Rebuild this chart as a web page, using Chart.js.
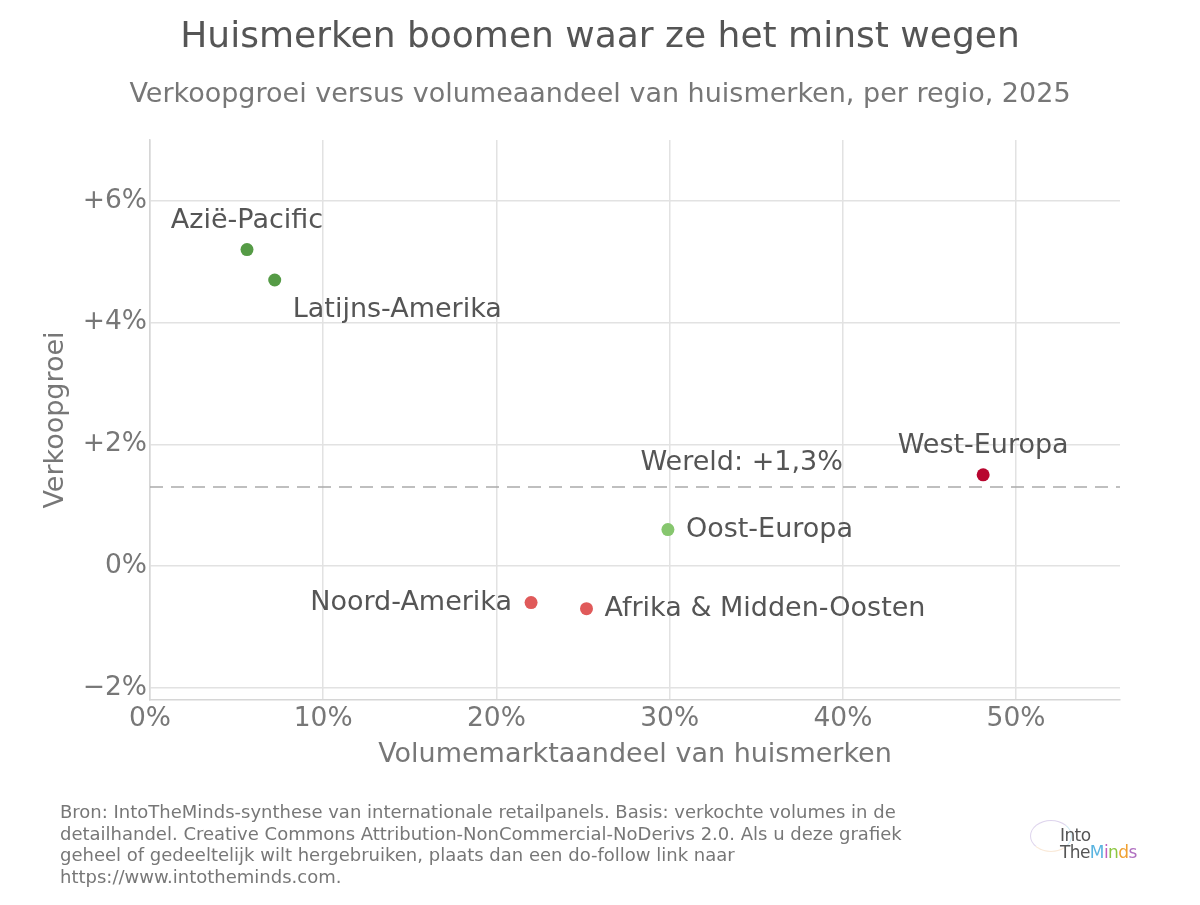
<!DOCTYPE html>
<html>
<head>
<meta charset="utf-8">
<script src="https://cdn.jsdelivr.net/npm/chart.js@4.4.1/dist/chart.umd.min.js"></script>
<style>
  body { margin: 0; background: #fff; font-family: 'DejaVu Sans', sans-serif; }
  #wrap { position: relative; width: 1200px; height: 905px; }
  #footer {
    position: absolute; left: 60px; top: 801px; width: 900px;
    font-family: 'DejaVu Sans', sans-serif;
    font-size: 18px; line-height: 21.5px; color: #777;
  }
  #logo {
    position: absolute; left: 1060px; top: 827px;
    font-family: 'DejaVu Sans', sans-serif; font-size: 17px; line-height: 17px; color: #555;
    letter-spacing: -0.6px;
  }
  #swirl {
    position: absolute; left: 1030px; top: 820px; width: 40px; height: 30px;
    border-radius: 50%; border: 1.5px solid rgba(190, 170, 220, 0.5);
    border-right-color: rgba(160, 210, 230, 0.5); border-bottom-color: rgba(240, 200, 160, 0.4);
  }
</style>
</head>
<body>
<div id="wrap">
  <canvas id="chart" width="1200" height="905"></canvas>
  <div id="footer">Bron: IntoTheMinds-synthese van internationale retailpanels. Basis: verkochte volumes in de<br>detailhandel. Creative Commons Attribution-NonCommercial-NoDerivs 2.0. Als u deze grafiek<br>geheel of gedeeltelijk wilt hergebruiken, plaats dan een do-follow link naar<br>https://www.intotheminds.com.</div>
  <div id="swirl"></div>
  <div id="logo">Into<br>The<span style="color:#5ab4e0">M</span><span style="color:#c05fc0">i</span><span style="color:#8cc63f">n</span><span style="color:#f0a030">d</span><span style="color:#b070c0">s</span></div>
</div>
<script>
// data
const regions = ['Azië-Pacific', 'Latijns-Amerika', 'West-Europa', 'Oost-Europa', 'Noord-Amerika', 'Afrika & Midden-Oosten'];
const volumeShare = [5.6, 7.2, 48.1, 29.9, 22.0, 25.2];
const salesGrowth = [5.2, 4.7, 1.5, 0.6, -0.6, -0.7];
const worldGrowth = 1.3;
const xRange = [0, 56];
const yRange = [-2.2, 7];

const pointColors = ['#559b46', '#559b46', '#b8062f', '#86c66e', '#e05a5a', '#e05a5a'];
// where each label sits relative to its dot
const labelSide = ['above', 'belowRight', 'above', 'right', 'left', 'right'];

const titleText = 'Huismerken boomen waar ze het minst wegen';
const subtitleText = 'Verkoopgroei versus volumeaandeel van huismerken, per regio, 2025';

const textGrey = '#555';
const tickGrey = '#777';
const FONT = '"DejaVu Sans"';

// titles centred on the whole canvas, not on the chart box
const headings = {
  id: 'headings',
  afterDraw(chart) {
    const ctx = chart.ctx;
    ctx.save();
    ctx.textAlign = 'center';
    ctx.textBaseline = 'middle';
    ctx.fillStyle = textGrey;
    ctx.font = '36px ' + FONT;
    ctx.fillText(titleText, chart.width / 2, 38);
    ctx.fillStyle = tickGrey;
    ctx.font = '27px ' + FONT;
    ctx.fillText(subtitleText, chart.width / 2, 95);
    ctx.restore();
  }
};

const pointLabels = {
  id: 'pointLabels',
  afterDatasetsDraw(chart) {
    const ctx = chart.ctx;
    const meta = chart.getDatasetMeta(0);
    ctx.save();
    ctx.font = '27px ' + FONT;
    ctx.fillStyle = textGrey;
    meta.data.forEach((pt, i) => {
      let x = pt.x, y = pt.y;
      ctx.textBaseline = 'middle';
      if (labelSide[i] === 'above') { ctx.textAlign = 'center'; y -= 29; }
      else if (labelSide[i] === 'belowRight') { ctx.textAlign = 'left'; x += 18; y += 30; }
      else if (labelSide[i] === 'right') { ctx.textAlign = 'left'; x += 18; }
      else { ctx.textAlign = 'right'; x -= 19; }
      ctx.fillText(regions[i], x, y);
    });
    // world reference label
    const xs = chart.scales.x, ys = chart.scales.y;
    ctx.textAlign = 'right';
    ctx.fillText('Wereld: +' + String(worldGrowth).replace('.', ',') + '%', xs.getPixelForValue(40), ys.getPixelForValue(worldGrowth) - 24);
    ctx.restore();
  }
};

new Chart(document.getElementById('chart'), {
  type: 'scatter',
  data: {
    datasets: [{
      label: 'Regio',
      data: regions.map((r, i) => ({ x: volumeShare[i], y: salesGrowth[i] })),
      backgroundColor: pointColors,
      borderWidth: 0,
      pointRadius: 6.5,
      order: 1
    }, {
      type: 'line',
      label: 'Wereld',
      data: [{ x: xRange[0], y: worldGrowth }, { x: xRange[1], y: worldGrowth }],
      borderColor: '#aaa',
      borderWidth: 1.6,
      borderDash: [13, 8],
      pointRadius: 0,
      order: 2
    }]
  },
  options: {
    responsive: false,
    animation: false,
    layout: { padding: { left: 0, right: 80, top: 140, bottom: 130 } },
    plugins: {
      legend: { display: false },
      tooltip: { enabled: false }
    },
    scales: {
      x: {
        type: 'linear',
        min: xRange[0],
        max: xRange[1],
        afterFit(scale) { scale.height = 75; },
        grid: { color: '#e2e2e2', lineWidth: 1.5, drawTicks: false },
        border: { color: '#d6d6d6', width: 1.5 },
        ticks: {
          stepSize: 10,
          includeBounds: false,
          padding: 3,
          color: tickGrey,
          font: { family: 'DejaVu Sans', size: 26.5 },
          callback: v => v + '%'
        },
        title: {
          display: true,
          text: 'Volumemarktaandeel van huismerken',
          color: tickGrey,
          font: { family: 'DejaVu Sans', size: 27 },
          padding: { top: 0, bottom: 4 }
        }
      },
      y: {
        type: 'linear',
        min: yRange[0],
        max: yRange[1],
        afterFit(scale) { scale.width = 150; },
        grid: { color: '#e2e2e2', lineWidth: 1.5, drawTicks: false },
        border: { color: '#d6d6d6', width: 1.5 },
        ticks: {
          stepSize: 2,
          includeBounds: false,
          padding: 3,
          color: tickGrey,
          font: { family: 'DejaVu Sans', size: 26.5 },
          callback: v => (v > 0 ? '+' : v < 0 ? '\u2212' : '') + Math.abs(v) + '%'
        },
        title: {
          display: true,
          text: 'Verkoopgroei',
          color: tickGrey,
          font: { family: 'DejaVu Sans', size: 27 },
          padding: { top: 40, bottom: 0 }
        }
      }
    }
  },
  plugins: [headings, pointLabels]
});
</script>
</body>
</html>
